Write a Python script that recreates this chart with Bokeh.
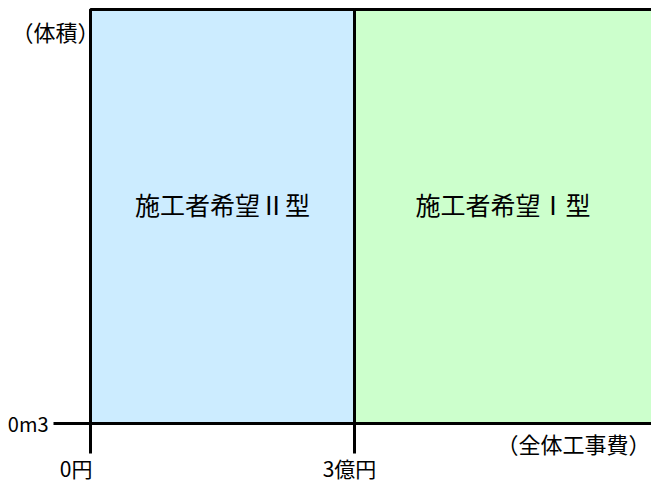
from bokeh.plotting import figure
from bokeh.models import Range1d, ColumnDataSource
from bokeh.core.properties import value
from bokeh.embed import file_html
from bokeh.resources import INLINE

# ---- data ----
region_names = ["施工者希望Ⅱ型", "施工者希望Ⅰ型"]
region_left = [0, 3]
region_right = [3, 6.6]
region_bottom = [0, 0]
region_top = [1, 1]
region_colors = ["#CCECFF", "#CCFFCC"]

cost_ticks = [0, 3]
cost_tick_labels = ["0円", "3億円"]
volume_ticks = [0]
volume_tick_labels = ["0m3"]
x_title = "（全体工事費）"
y_title = "（体積）"

# ---- layout ----
FONT = "Noto Sans CJK JP"
W, H = 651, 482
LEFT_PX, BOTTOM_PX, TOP_PX = 90, 59, 9
X_PX = 1 / 88.0                              # data units per pixel (x)
Y_PX = 1 / float(H - BOTTOM_PX - TOP_PX)     # data units per pixel (y)
X_START = -LEFT_PX * X_PX
X_END = (W - LEFT_PX) * X_PX
Y_START = -BOTTOM_PX * Y_PX
Y_END = 1 + TOP_PX * Y_PX

p = figure(width=W, height=H, output_backend="svg", toolbar_location=None,
           x_range=Range1d(X_START, X_END), y_range=Range1d(Y_START, Y_END),
           min_border=0, x_axis_type=None, y_axis_type=None)
p.outline_line_color = None
p.grid.visible = False
p.background_fill_color = "white"
p.border_fill_color = "white"

# regions
src = ColumnDataSource(dict(left=region_left, right=region_right, bottom=region_bottom,
                            top=region_top, color=region_colors))
p.quad(left="left", right="right", bottom="bottom", top="top", fill_color="color",
       line_color="black", line_width=3, source=src)

label_x = [(l + min(r, X_END)) / 2 for l, r in zip(region_left, region_right)]
label_y = [0.53 * t for t in region_top]
p.text(x=label_x, y=label_y, text=region_names, text_align="center", text_baseline="middle",
       text_font=value(FONT), text_font_size="25px", text_color="black")

# axis lines and ticks
v0 = volume_ticks[0]
ytick_len = 37 * X_PX
xtick_len = 30 * Y_PX
p.segment(x0=[cost_ticks[0] - ytick_len], y0=[v0], x1=[X_END], y1=[v0],
          line_color="black", line_width=3)
p.segment(x0=cost_ticks, y0=[v0 - xtick_len] * len(cost_ticks),
          x1=cost_ticks, y1=[max(region_top)] * len(cost_ticks),
          line_color="black", line_width=3)

# y tick labels
p.text(x=[cost_ticks[0] - ytick_len - 5 * X_PX] * len(volume_ticks), y=volume_ticks,
       text=volume_tick_labels, text_align="right", text_baseline="middle",
       text_font=value(FONT), text_font_size="20px", text_color="black")

# x tick labels
xl_off = [2 * X_PX, -5 * X_PX]
p.text(x=[t + o for t, o in zip(cost_ticks, xl_off)],
       y=[v0 - 44 * Y_PX] * len(cost_ticks), text=cost_tick_labels,
       text_align=["right", "center"], text_baseline="middle",
       text_font=value(FONT), text_font_size="21px", text_color="black")

# axis titles
p.text(x=[X_END - 1 * X_PX], y=[v0 - 19 * Y_PX], text=[x_title], text_align="right",
       text_baseline="middle", text_font=value(FONT), text_font_size="22px", text_color="black")
p.text(x=[cost_ticks[0] - 35 * X_PX], y=[max(region_top) - 21 * Y_PX], text=[y_title],
       text_align="center", text_baseline="middle", text_font=value(FONT),
       text_font_size="22px", text_color="black")

open("out.html", "w").write(file_html(p, INLINE))
